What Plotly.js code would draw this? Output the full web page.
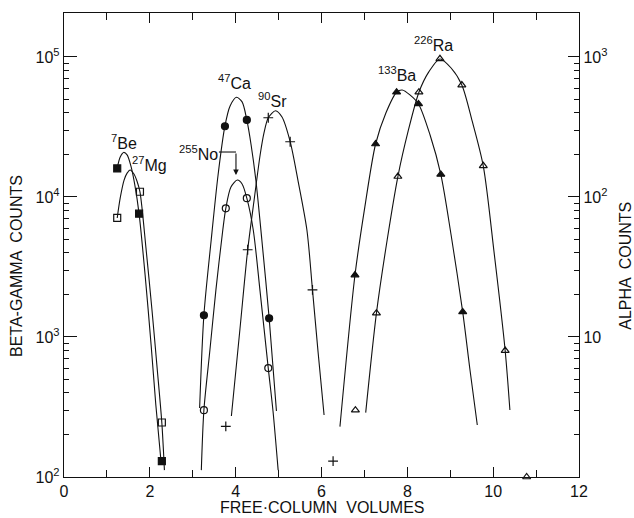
<!DOCTYPE html>
<html><head><meta charset="utf-8">
<script src="https://cdn.plot.ly/plotly-3.0.1.min.js"></script>
<style>html,body{margin:0;padding:0;background:#fff}</style>
</head><body><div id="chart" style="width:634px;height:518px"></div>
<script>
// ---- measured points (x: free column volumes, y: counts) ----
const beX = [1.24, 1.75, 2.28];
const beY = [16000, 7600, 130];
const mgX = [1.24, 1.77, 2.28];
const mgY = [7100, 10900, 245];
const caX = [3.26, 3.75, 4.26, 4.78];
const caY = [1430, 32000, 35500, 1360];
const noX = [3.26, 3.77, 4.26, 4.76];
const noY = [300, 8300, 9800, 600];
const srX = [3.77, 4.28, 4.76, 5.27, 5.79, 6.27];
const srY = [230, 4200, 36800, 24800, 2170, 130];
const baX = [6.78, 7.26, 7.75, 8.26, 8.78, 9.29];          // alpha axis
const baY = [27.7, 239, 560, 462, 145, 15.1];
const raX = [6.79, 7.28, 7.78, 8.27, 8.76, 9.27, 9.77, 10.28, 10.78]; // alpha axis
const raY = [3.0, 14.8, 140, 560, 970, 630, 167, 8.0, 1.0];

// ---- drawn elution curves ----
const beCurveX = [1.24, 1.31, 1.39, 1.47, 1.56, 1.65, 1.75, 1.89, 2.03, 2.14, 2.26];
const beCurveY = [16100, 19300, 20800, 20000, 16600, 12200, 7570, 2770, 877, 327, 130];
const mgCurveX = [1.24, 1.31, 1.40, 1.47, 1.54, 1.63, 1.70, 1.77, 1.91, 2.05, 2.17, 2.28, 2.34];
const mgCurveY = [7080, 9840, 13200, 14800, 15600, 14600, 13000, 10860, 4320, 1560, 601, 243, 112];
const caCurveX = [3.16, 3.26, 3.43, 3.59, 3.75, 3.87, 4.02, 4.15, 4.26, 4.36, 4.47, 4.61, 4.78, 4.95];
const caCurveY = [311, 1436, 4930, 14360, 32150, 44670, 51520, 47750, 35480, 23500, 13210, 4930, 1368, 296];
const noCurveX = [3.20, 3.26, 3.40, 3.54, 3.70, 3.77, 3.89, 4.04, 4.15, 4.26, 4.41, 4.57, 4.76, 4.87, 4.99];
const noCurveY = [112, 301, 807, 2170, 5810, 8300, 11780, 13210, 12390, 9800, 5810, 2100, 597, 296, 112];
const srCurveX = [3.90, 4.10, 4.28, 4.43, 4.57, 4.66, 4.76, 4.93, 5.08, 5.27, 5.45, 5.66, 5.79, 5.92, 6.06];
const srCurveY = [273, 1140, 4180, 9520, 19950, 28640, 36810, 41300, 37240, 24830, 13210, 5810, 2170, 782, 277];
const baCurveX = [6.43, 6.78, 7.01, 7.26, 7.50, 7.75, 7.88, 8.06, 8.26, 8.53, 8.78, 9.02, 9.29, 9.46, 9.63];
const baCurveY = [2.29, 27.7, 84.9, 239, 398, 560, 581, 536, 462, 277, 145, 53.5, 15.1, 5.81, 2.35];
const raCurveX = [7.03, 7.28, 7.53, 7.78, 8.02, 8.27, 8.50, 8.76, 9.02, 9.27, 9.51, 9.77, 10.02, 10.28, 10.39];
const raCurveY = [2.88, 14.8, 49.3, 140, 296, 560, 782, 968, 834, 631, 349, 166, 40.5, 7.98, 3.01];

// ---- axis ticks / labels ----
const xTicks = [0, 2, 4, 6, 8, 10, 12];
const leftTickVals = [100, 1000, 10000, 100000];
const leftTickText = ['10<sup>2</sup>', '10<sup>3</sup>', '10<sup>4</sup>', '10<sup>5</sup>'];
const rightTickVals = [10, 100, 1000];
const rightTickText = ['10', '10<sup>2</sup>', '10<sup>3</sup>'];

const FONT = 'Liberation Sans, Arial, sans-serif';
const INK = '#111';

function minorLog(from, to) {
  const v = [];
  for (let d = from; d < to; d++) for (let m = 2; m <= 9; m++) v.push(m * Math.pow(10, d));
  return v;
}

function curve(x, y, axis) {
  return {x: x, y: y, yaxis: axis, type: 'scatter', mode: 'lines',
    line: {color: INK, width: 1.1, shape: 'spline', smoothing: 0.8},
    hoverinfo: 'skip', showlegend: false};
}
function pts(x, y, axis, symbol, size) {
  return {x: x, y: y, yaxis: axis, type: 'scatter', mode: 'markers', cliponaxis: false,
    marker: {symbol: symbol, size: size, color: INK, line: {color: INK, width: 1.2}},
    showlegend: false};
}

const traces = [
  curve(beCurveX, beCurveY, 'y'),
  curve(mgCurveX, mgCurveY, 'y'),
  curve(caCurveX, caCurveY, 'y'),
  curve(noCurveX, noCurveY, 'y'),
  curve(srCurveX, srCurveY, 'y'),
  curve(baCurveX, baCurveY, 'y2'),
  curve(raCurveX, raCurveY, 'y2'),
  pts(beX, beY, 'y', 'square', 7),
  pts(mgX, mgY, 'y', 'square-open', 7),
  pts(caX, caY, 'y', 'circle', 7),
  pts(noX, noY, 'y', 'circle-open', 7),
  pts(srX, srY, 'y', 'cross-thin-open', 7),
  pts(baX, baY, 'y2', 'triangle-up', 7),
  pts(raX, raY, 'y2', 'triangle-up-open', 7)
];

function lab(txt, x, ylog) {
  return {text: txt, x: x, y: ylog, xref: 'x', yref: 'y', showarrow: false,
    font: {family: FONT, size: 16, color: INK}, xanchor: 'center', yanchor: 'middle'};
}

const layout = {
  width: 634, height: 518,
  margin: {l: 64, r: 55, t: 13, b: 41},
  paper_bgcolor: '#fff', plot_bgcolor: '#fff',
  font: {family: FONT, size: 16, color: INK},
  showlegend: false,
  xaxis: {range: [0, 12], tickvals: xTicks, ticks: 'inside', ticklen: 10, tickwidth: 1,
    tickcolor: INK, showline: true, linecolor: INK, linewidth: 1.2, mirror: 'ticks',
    showgrid: false, zeroline: false, tickfont: {size: 16},
    minor: {dtick: 1, tick0: 0, ticks: 'inside', ticklen: 7, tickcolor: INK, showgrid: false}},
  yaxis: {type: 'log', range: [2, 5.314], tickvals: leftTickVals, ticktext: leftTickText,
    ticks: 'inside', ticklen: 13, tickwidth: 1, tickcolor: INK, showline: true,
    linecolor: INK, linewidth: 1.2, showgrid: false, zeroline: false, tickfont: {size: 16},
    minor: {tickmode: 'array', tickvals: minorLog(2, 5), ticks: 'inside', ticklen: 5, tickcolor: INK, showgrid: false}},
  yaxis2: {type: 'log', overlaying: 'y', side: 'right', range: [0, 3.314],
    tickvals: rightTickVals, ticktext: rightTickText,
    ticks: 'inside', ticklen: 11, tickwidth: 1, tickcolor: INK, showline: true,
    linecolor: INK, linewidth: 1.2, showgrid: false, zeroline: false, tickfont: {size: 16},
    minor: {tickmode: 'array', tickvals: minorLog(0, 3), ticks: 'inside', ticklen: 5, tickcolor: INK, showgrid: false}},
  annotations: [
    lab('<sup>7</sup>Be', 1.40, 4.393),
    lab('<sup>27</sup>Mg', 2.00, 4.236),
    lab('<sup>47</sup>Ca', 3.98, 4.821),
    lab('<sup>90</sup>Sr', 4.85, 4.693),
    lab('<sup>255</sup>No', 3.14, 4.314),
    lab('<sup>133</sup>Ba', 7.76, 4.879),
    lab('<sup>226</sup>Ra', 8.60, 5.093),
    {text: '', x: 4.007, y: 4.157, xref: 'x', yref: 'y', showarrow: true, ax: 0, ay: -23,
      arrowhead: 2, arrowsize: 1, arrowwidth: 1.1, arrowcolor: INK},
    {text: 'FREE·COLUMN  VOLUMES', xref: 'paper', yref: 'paper', x: 0.5, y: -0.065,
      showarrow: false, xanchor: 'center', yanchor: 'middle', font: {family: FONT, size: 16, color: INK}},
    {text: 'BETA-GAMMA  COUNTS', xref: 'paper', yref: 'paper', x: -0.091, y: 0.455,
      showarrow: false, textangle: -90, xanchor: 'center', yanchor: 'middle', font: {family: FONT, size: 16, color: INK}},
    {text: 'ALPHA  COUNTS', xref: 'paper', yref: 'paper', x: 1.091, y: 0.455,
      showarrow: false, textangle: -90, xanchor: 'center', yanchor: 'middle', font: {family: FONT, size: 16, color: INK}}
  ],
  shapes: [
    {type: 'line', xref: 'x', yref: 'paper', x0: 3.61, x1: 4.007, y0: 0.7004, y1: 0.7004,
      line: {color: INK, width: 1.1}}
  ]
};

Plotly.newPlot('chart', traces, layout, {displayModeBar: false, staticPlot: true});
</script></body></html>
